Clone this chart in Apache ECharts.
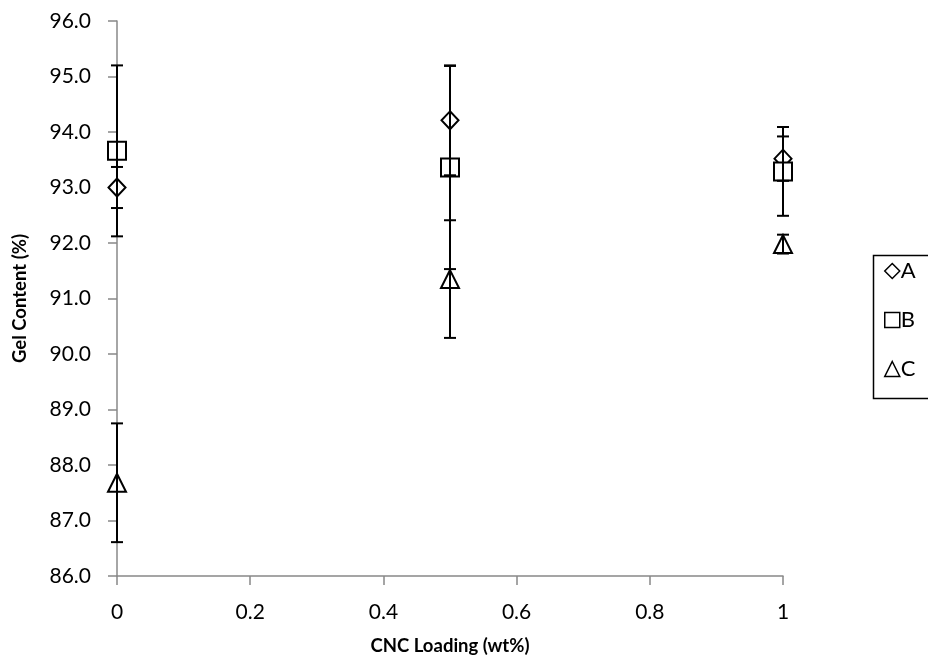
<!DOCTYPE html>
<html>
<head>
<meta charset="utf-8">
<script src="https://cdn.jsdelivr.net/npm/echarts@6/dist/echarts.min.js"></script>
<style>
  html, body { margin: 0; padding: 0; background: #fff; }
  #chart { width: 928px; height: 662px; }
</style>
</head>
<body>
<div id="chart"></div>
<script>
// CNC loading levels (wt%)
const loading = [0, 0.5, 1];

// Gel content means and standard deviations for each formulation
const gelA = [93.00, 94.21, 93.52];
const errA = [0.37, 0.99, 0.40];
const gelB = [93.66, 93.36, 93.29];
const errB = [1.54, 1.83, 0.80];
const gelC = [87.68, 91.35, 91.98];
const errC = [1.07, 1.06, 0.17];

const seriesNames = ['A', 'B', 'C'];
const xTicks = [0, 0.2, 0.4, 0.6, 0.8, 1];

const FONT = 'Lato';
const chart = echarts.init(document.getElementById('chart'), null, { renderer: 'canvas' });

const groups = [
  { name: seriesNames[0], symbol: 'diamond', size: [17, 18], y: gelA, e: errA },
  { name: seriesNames[1], symbol: 'rect', size: [18, 18], y: gelB, e: errB },
  { name: seriesNames[2], symbol: 'triangle', size: [18, 18], y: gelC, e: errC }
];

const markerSeries = groups.map(g => ({
  name: g.name,
  type: 'scatter',
  symbol: g.symbol,
  symbolSize: g.size,
  clip: false,
  z: 2,
  itemStyle: { color: '#fff', borderColor: '#000', borderWidth: 2, opacity: 1 },
  data: loading.map((x, i) => [x, g.y[i]])
}));

// Error bars drawn over the markers: vertical whisker plus end caps
const errorSeries = groups.map(g => ({
  name: g.name + ' error',
  type: 'custom',
  z: 3,
  clip: false,
  silent: true,
  data: loading.map((x, i) => [x, g.y[i] - g.e[i], g.y[i] + g.e[i]]),
  renderItem: function (params, api) {
    const lo = api.coord([api.value(0), api.value(1)]);
    const hi = api.coord([api.value(0), api.value(2)]);
    const cap = 6;
    const st = { stroke: '#000', lineWidth: 2 };
    return {
      type: 'group',
      children: [
        { type: 'line', shape: { x1: hi[0], y1: hi[1], x2: lo[0], y2: lo[1] }, style: st },
        { type: 'line', shape: { x1: hi[0] - cap, y1: hi[1], x2: hi[0] + cap, y2: hi[1] }, style: st },
        { type: 'line', shape: { x1: lo[0] - cap, y1: lo[1], x2: lo[0] + cap, y2: lo[1] }, style: st }
      ]
    };
  }
}));

const titleStyle = { fontFamily: FONT, fontSize: 18.5, fontWeight: 'bold', color: '#000' };

chart.setOption({
  animation: false,
  backgroundColor: '#fff',
  textStyle: { fontFamily: FONT },
  grid: { left: 117, right: 145, top: 21, bottom: 86, containLabel: false },
  xAxis: {
    type: 'value',
    min: 0, max: 1, interval: 0.2,
    name: 'CNC Loading (wt%)',
    nameLocation: 'middle',
    nameGap: 61,
    nameTextStyle: titleStyle,
    axisLine: { show: true, lineStyle: { color: '#888', width: 1.5 } },
    axisTick: { show: true, length: 9, lineStyle: { color: '#888', width: 1.5 } },
    splitLine: { show: false },
    axisLabel: {
      fontFamily: FONT, fontSize: 21, color: '#000', margin: 26,
      formatter: v => xTicks.indexOf(+v.toFixed(1)) >= 0 ? String(+v.toFixed(1)) : ''
    }
  },
  yAxis: {
    type: 'value',
    min: 86, max: 96, interval: 1,
    name: 'Gel Content (%)',
    nameLocation: 'middle',
    nameGap: 87,
    nameRotate: 90,
    nameTextStyle: titleStyle,
    axisLine: { show: true, lineStyle: { color: '#888', width: 1.5 } },
    axisTick: { show: true, length: 9, lineStyle: { color: '#888', width: 1.5 } },
    splitLine: { show: false },
    axisLabel: {
      fontFamily: FONT, fontSize: 21, color: '#000', margin: 26,
      formatter: v => v.toFixed(1)
    }
  },
  legend: {
    orient: 'vertical',
    left: 879,
    top: 255,
    itemWidth: 15,
    itemHeight: 15,
    itemGap: 27,
    selectedMode: false,
    textStyle: { fontFamily: FONT, fontSize: 22, color: '#000', padding: [0, 0, 0, -4] },
    data: [
      { name: 'A', icon: 'diamond' },
      { name: 'B', icon: 'rect' },
      { name: 'C', icon: 'triangle' }
    ],
    itemStyle: { color: '#fff', borderColor: '#000', borderWidth: 1.5 }
  },
  graphic: [
    {
      type: 'rect',
      left: 871, top: 253,
      shape: { width: 80, height: 143 },
      style: { fill: 'none', stroke: '#000', lineWidth: 1.5 },
      z: 0
    }
  ],
  series: markerSeries.concat(errorSeries)
});
</script>
</body>
</html>
